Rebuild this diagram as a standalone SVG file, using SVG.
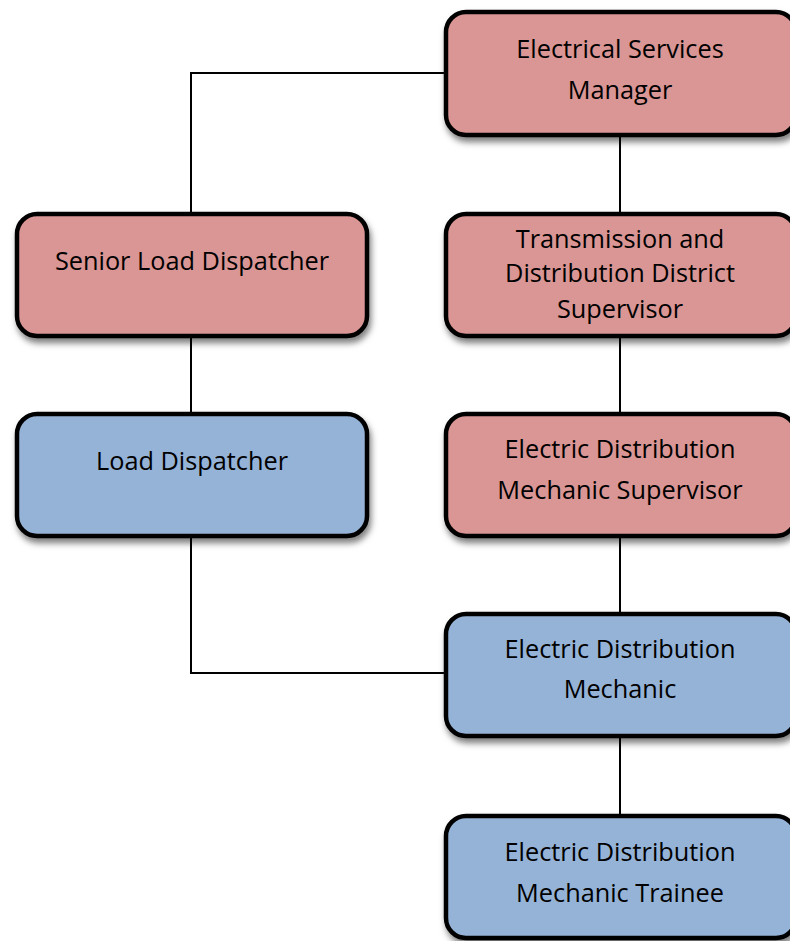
<svg xmlns="http://www.w3.org/2000/svg" width="790" height="941" viewBox="0 0 790 941">
<style>
.box{stroke:#000;stroke-width:4.5;filter:url(#sh)}
.red{fill:#D99694}
.blue{fill:#95B3D7}
.t{font-family:"Open Sans","Liberation Sans",sans-serif;font-size:25.3px;fill:#000;text-anchor:middle}
.c{stroke:#000;stroke-width:2;fill:none}
</style>
<defs>
<filter id="sh" x="-10%" y="-10%" width="130%" height="140%">
<feDropShadow dx="2" dy="5" stdDeviation="3" flood-color="#000" flood-opacity="0.5"/>
</filter>
</defs>
<g id="connectors">
<polyline class="c" points="444,73 191,73 191,212"/>
<line class="c" x1="620" y1="137" x2="620" y2="212"/>
<line class="c" x1="191" y1="338" x2="191" y2="412"/>
<line class="c" x1="620" y1="338" x2="620" y2="412"/>
<line class="c" x1="620" y1="538" x2="620" y2="612"/>
<polyline class="c" points="191,538 191,673 444,673"/>
<line class="c" x1="620" y1="738" x2="620" y2="814"/>
</g>
<g id="n1"><rect class="box red" x="446" y="12" width="350" height="123" rx="20"/>
<text class="t" x="620" y="58">Electrical Services</text><text class="t" x="620" y="99">Manager</text></g>
<g id="n2"><rect class="box red" x="17" y="214" width="350" height="122" rx="20"/>
<text class="t" x="192" y="270">Senior Load Dispatcher</text></g>
<g id="n3"><rect class="box red" x="446" y="214" width="350" height="122" rx="20"/>
<text class="t" x="620" y="248">Transmission and</text><text class="t" x="620" y="282">Distribution District</text><text class="t" x="620" y="318">Supervisor</text></g>
<g id="n4"><rect class="box blue" x="17" y="414" width="350" height="122" rx="20"/>
<text class="t" x="192" y="470">Load Dispatcher</text></g>
<g id="n5"><rect class="box red" x="446" y="414" width="350" height="122" rx="20"/>
<text class="t" x="620" y="458">Electric Distribution</text><text class="t" x="620" y="499">Mechanic Supervisor</text></g>
<g id="n6"><rect class="box blue" x="446" y="614" width="350" height="122" rx="20"/>
<text class="t" x="620" y="658">Electric Distribution</text><text class="t" x="620" y="698">Mechanic</text></g>
<g id="n7"><rect class="box blue" x="446" y="816" width="350" height="122" rx="20"/>
<text class="t" x="620" y="861">Electric Distribution</text><text class="t" x="620" y="902">Mechanic Trainee</text></g>
</svg>
